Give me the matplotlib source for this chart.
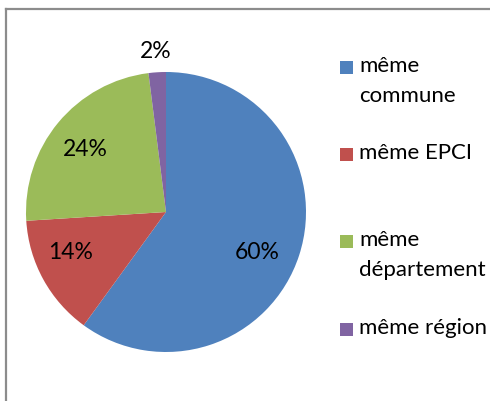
import numpy as np
import matplotlib.pyplot as plt
from matplotlib.patches import Rectangle
from matplotlib.lines import Line2D

plt.rcParams['font.family'] = ['Lato', 'DejaVu Sans']

labels = ['même\ncommune', 'même EPCI', 'même\ndépartement', 'même région']
values = [60, 14, 24, 2]
colors = ['#4F81BD', '#C0504D', '#9BBB59', '#8064A2']
# placement of each percentage label: distance in pie radii, angle nudge in degrees
label_r = [0.71, 0.74, 0.73, 1.15]
label_turn = [-6, -5.5, 2, 0]

W, H = 490, 401
fig = plt.figure(figsize=(W / 100, H / 100), dpi=100)

# chart frame (only the top and left edges fall inside the image)
fig.add_artist(Line2D([6 / W, 6 / W], [0, 1 - 9 / H], transform=fig.transFigure,
                      color='#8c8c8c', lw=1.6))
fig.add_artist(Line2D([6 / W, 1], [1 - 9 / H, 1 - 9 / H], transform=fig.transFigure,
                      color='#8c8c8c', lw=1.6))

cx, cy, r = 166, 212, 140
ax = fig.add_axes([(cx - r) / W, (H - cy - r) / H, 2 * r / W, 2 * r / H])
wedges, _ = ax.pie(values, colors=colors, startangle=90, counterclock=False,
                   wedgeprops=dict(linewidth=0))
ax.set_xlim(-1, 1)
ax.set_ylim(-1, 1)
ax.set_aspect('equal')
ax.axis('off')

total = sum(values)
start = 90.0
for v, d, t in zip(values, label_r, label_turn):
    span = 360.0 * v / total
    mid = np.deg2rad(start - span / 2 + t)
    start -= span
    ax.text(d * np.cos(mid), d * np.sin(mid), f'{v}%', ha='center', va='center',
            fontsize=16.5, color='#000000', clip_on=False)

# legend
entry_y = [67, 154, 241, 329]
for lab, col, y in zip(labels, colors, entry_y):
    fig.add_artist(Rectangle((340 / W, 1 - (y + 6.5) / H), 13 / W, 13 / H,
                             transform=fig.transFigure, facecolor=col, edgecolor='none'))
    fig.text(359 / W, 1 - (y - 11) / H, lab, ha='left', va='top', fontsize=16,
             linespacing=1.6, color='#000000')

fig.savefig('out.png', dpi=100)
